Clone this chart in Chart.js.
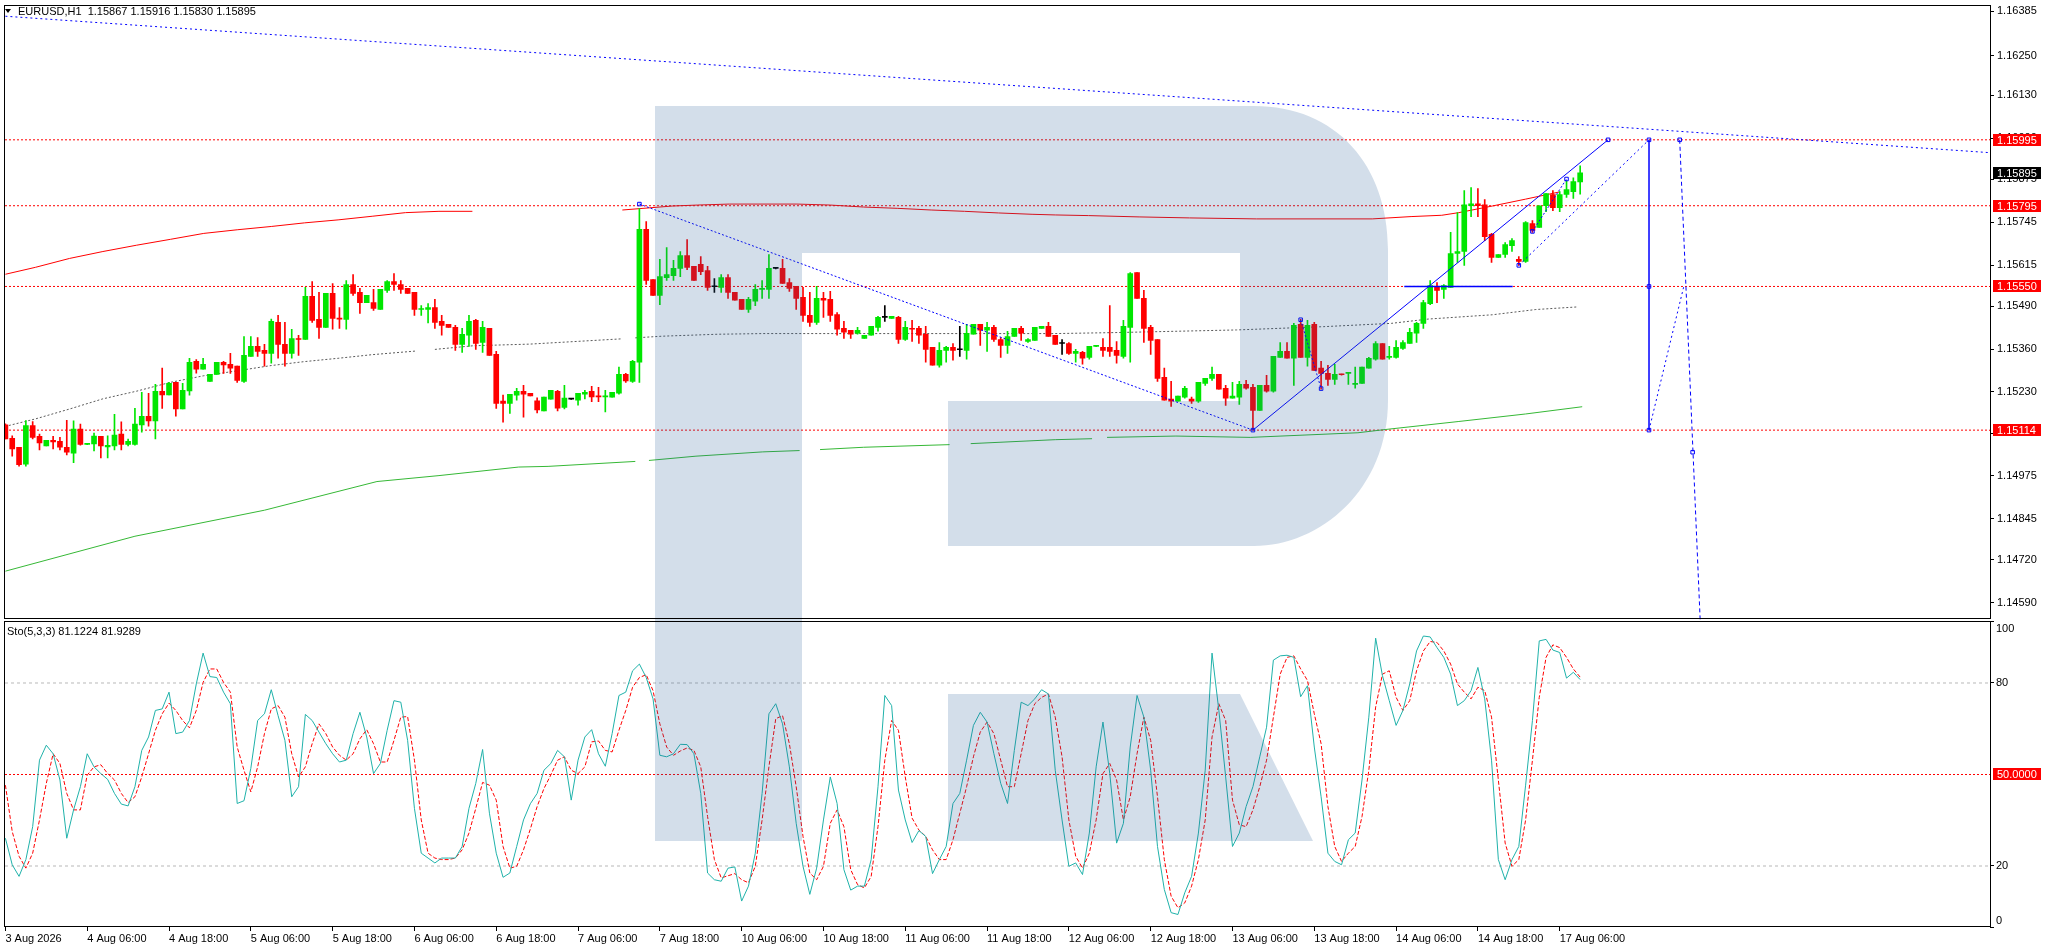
<!DOCTYPE html>
<html>
<head>
<meta charset="utf-8">
<script src="https://cdn.jsdelivr.net/npm/chart.js@4.4.1/dist/chart.umd.min.js"></script>
<style>
html,body{margin:0;padding:0;background:#fff;overflow:hidden}
canvas{display:block}
</style>
</head>
<body>
<canvas id="c" width="2046" height="948" style="width:2046px;height:948px"></canvas>
<script>
// ---------------- DATA ----------------
const symbolTitle = 'EURUSD,H1';
const stochTitle = 'Sto(5,3,3)';

// hourly candles, 3 Aug 2026 18:00 .. 17 Aug 2026 09:00
const opens = [
1.15130,1.15089,1.15062,1.15011,1.15128,1.15095,1.15066,1.15083,1.15080,1.15062,
1.15044,1.15117,1.15071,1.15072,1.15095,1.15063,1.15066,1.15102,1.15071,1.15071,
1.15130,1.15156,1.15142,1.15232,1.15221,1.15259,1.15178,1.15233,1.15323,1.15299,
1.15262,1.15283,1.15320,1.15314,1.15308,1.15262,1.15338,1.15368,1.15356,1.15347,
1.15441,1.15374,1.15347,1.15392,1.15389,1.15520,1.15450,1.15426,1.15529,1.15453,
1.15450,1.15556,1.15532,1.15501,1.15501,1.15480,1.15538,1.15565,1.15556,1.15544,
1.15532,1.15480,1.15480,1.15486,1.15444,1.15435,1.15426,1.15374,1.15402,1.15447,
1.15380,1.15423,1.15344,1.15202,1.15195,1.15220,1.15232,1.15226,1.15203,1.15172,
1.15208,1.15232,1.15183,1.15208,1.15205,1.15223,1.15232,1.15217,1.15215,1.15214,
1.15226,1.15283,1.15262,1.15320,1.15723,1.15571,1.15523,1.15577,1.15583,1.15605,
1.15644,1.15611,1.15617,1.15598,1.15549,1.15547,1.15577,1.15532,1.15511,1.15480,
1.15505,1.15541,1.15541,1.15605,1.15605,1.15562,1.15550,1.15517,1.15462,1.15441,
1.15514,1.15511,1.15465,1.15423,1.15417,1.15408,1.15392,1.15402,1.15426,1.15456,
1.15453,1.15456,1.15389,1.15423,1.15423,1.15405,1.15365,1.15311,1.15356,1.15365,
1.15358,1.15356,1.15405,1.15435,1.15417,1.15426,1.15389,1.15371,1.15398,1.15423,
1.15383,1.15386,1.15423,1.15429,1.15402,1.15377,1.15377,1.15347,1.15350,1.15335,
1.15368,1.15365,1.15365,1.15356,1.15338,1.15426,1.15592,1.15514,1.15426,1.15389,
1.15274,1.15208,1.15202,1.15214,1.15208,1.15202,1.15256,1.15271,1.15283,1.15241,
1.15211,1.15214,1.15253,1.15244,1.15174,1.15250,1.15232,1.15335,1.15353,1.15332,
1.15435,1.15335,1.15435,1.15302,1.15286,1.15268,1.15283,1.15286,1.15253,1.15256,
1.15302,1.15329,1.15377,1.15335,1.15335,1.15362,1.15377,1.15408,1.15438,1.15498,
1.15550,1.15541,1.15547,1.15650,1.15656,1.15795,1.15801,1.15798,1.15708,1.15638,
1.15647,1.15674,1.15632,1.15626,1.15741,1.15729,1.15795,1.15829,1.15789,1.15829,
1.15838,1.15867];
const highs = [
1.15133,1.15097,1.15062,1.15143,1.15140,1.15102,1.15083,1.15095,1.15092,1.15144,
1.15142,1.15132,1.15073,1.15105,1.15095,1.15097,1.15162,1.15139,1.15087,1.15180,
1.15229,1.15226,1.15253,1.15302,1.15259,1.15259,1.15256,1.15332,1.15328,1.15332,
1.15283,1.15320,1.15323,1.15347,1.15308,1.15398,1.15398,1.15395,1.15374,1.15451,
1.15462,1.15441,1.15420,1.15402,1.15547,1.15565,1.15532,1.15529,1.15559,1.15486,
1.15568,1.15586,1.15544,1.15523,1.15541,1.15541,1.15568,1.15589,1.15568,1.15544,
1.15532,1.15492,1.15498,1.15511,1.15462,1.15435,1.15432,1.15423,1.15462,1.15450,
1.15444,1.15423,1.15353,1.15220,1.15223,1.15241,1.15250,1.15226,1.15212,1.15214,
1.15235,1.15235,1.15250,1.15209,1.15226,1.15235,1.15247,1.15244,1.15235,1.15229,
1.15305,1.15286,1.15326,1.15786,1.15747,1.15571,1.15632,1.15668,1.15629,1.15656,
1.15692,1.15611,1.15641,1.15611,1.15574,1.15586,1.15586,1.15532,1.15511,1.15517,
1.15556,1.15568,1.15647,1.15607,1.15632,1.15574,1.15550,1.15547,1.15532,1.15550,
1.15532,1.15535,1.15471,1.15444,1.15417,1.15426,1.15402,1.15429,1.15459,1.15492,
1.15459,1.15459,1.15444,1.15447,1.15429,1.15429,1.15365,1.15380,1.15368,1.15377,
1.15429,1.15435,1.15435,1.15435,1.15441,1.15432,1.15395,1.15414,1.15423,1.15429,
1.15392,1.15426,1.15429,1.15441,1.15402,1.15389,1.15380,1.15359,1.15353,1.15368,
1.15370,1.15392,1.15492,1.15383,1.15447,1.15592,1.15592,1.15538,1.15432,1.15389,
1.15302,1.15262,1.15217,1.15247,1.15214,1.15259,1.15271,1.15305,1.15283,1.15250,
1.15259,1.15262,1.15265,1.15253,1.15250,1.15280,1.15338,1.15380,1.15380,1.15438,
1.15450,1.15447,1.15441,1.15323,1.15311,1.15314,1.15284,1.15289,1.15305,1.15305,
1.15335,1.15383,1.15377,1.15368,1.15386,1.15386,1.15423,1.15441,1.15508,1.15568,
1.15562,1.15556,1.15714,1.15774,1.15841,1.15850,1.15847,1.15814,1.15711,1.15647,
1.15683,1.15695,1.15641,1.15747,1.15750,1.15795,1.15832,1.15841,1.15838,1.15871,
1.15880,1.15916];
const lows = [
1.15087,1.15035,1.15005,1.15005,1.15087,1.15054,1.15066,1.15057,1.15054,1.15039,
1.15015,1.15068,1.15070,1.15051,1.15030,1.15030,1.15054,1.15054,1.15066,1.15068,
1.15108,1.15126,1.15087,1.15180,1.15221,1.15156,1.15178,1.15220,1.15287,1.15299,
1.15262,1.15283,1.15286,1.15286,1.15259,1.15259,1.15338,1.15338,1.15308,1.15317,
1.15332,1.15308,1.15332,1.15341,1.15389,1.15441,1.15392,1.15426,1.15420,1.15423,
1.15420,1.15523,1.15468,1.15501,1.15477,1.15480,1.15532,1.15538,1.15529,1.15529,
1.15462,1.15462,1.15439,1.15423,1.15402,1.15426,1.15356,1.15350,1.15368,1.15359,
1.15350,1.15341,1.15180,1.15138,1.15165,1.15205,1.15153,1.15218,1.15166,1.15172,
1.15208,1.15172,1.15178,1.15207,1.15190,1.15209,1.15200,1.15200,1.15169,1.15214,
1.15223,1.15259,1.15259,1.15259,1.15556,1.15523,1.15495,1.15568,1.15568,1.15580,
1.15601,1.15568,1.15586,1.15538,1.15532,1.15532,1.15514,1.15508,1.15480,1.15471,
1.15492,1.15514,1.15514,1.15603,1.15559,1.15535,1.15480,1.15444,1.15429,1.15435,
1.15456,1.15444,1.15402,1.15392,1.15392,1.15405,1.15392,1.15402,1.15414,1.15444,
1.15453,1.15377,1.15386,1.15383,1.15377,1.15320,1.15311,1.15305,1.15320,1.15326,
1.15338,1.15329,1.15405,1.15371,1.15353,1.15383,1.15335,1.15347,1.15398,1.15386,
1.15380,1.15386,1.15423,1.15398,1.15374,1.15344,1.15344,1.15320,1.15314,1.15329,
1.15367,1.15338,1.15338,1.15317,1.15332,1.15320,1.15514,1.15380,1.15344,1.15262,
1.15205,1.15186,1.15202,1.15211,1.15195,1.15198,1.15250,1.15265,1.15238,1.15189,
1.15211,1.15192,1.15238,1.15114,1.15174,1.15229,1.15229,1.15335,1.15332,1.15250,
1.15335,1.15308,1.15295,1.15238,1.15250,1.15253,1.15281,1.15253,1.15241,1.15256,
1.15302,1.15326,1.15329,1.15329,1.15332,1.15359,1.15377,1.15380,1.15423,1.15495,
1.15501,1.15514,1.15547,1.15623,1.15614,1.15762,1.15762,1.15689,1.15623,1.15638,
1.15638,1.15656,1.15614,1.15623,1.15714,1.15729,1.15777,1.15780,1.15777,1.15820,
1.15817,1.15830];
const closes = [
1.15087,1.15057,1.15009,1.15128,1.15092,1.15075,1.15083,1.15078,1.15062,1.15047,
1.15117,1.15071,1.15072,1.15096,1.15066,1.15068,1.15099,1.15071,1.15080,1.15132,
1.15156,1.15142,1.15232,1.15221,1.15256,1.15178,1.15235,1.15320,1.15299,1.15314,
1.15283,1.15320,1.15312,1.15302,1.15265,1.15341,1.15368,1.15353,1.15347,1.15444,
1.15374,1.15347,1.15392,1.15389,1.15520,1.15447,1.15426,1.15529,1.15453,1.15451,
1.15556,1.15529,1.15501,1.15523,1.15483,1.15541,1.15565,1.15556,1.15541,1.15529,
1.15480,1.15483,1.15486,1.15441,1.15432,1.15426,1.15374,1.15405,1.15444,1.15377,
1.15426,1.15341,1.15195,1.15195,1.15223,1.15232,1.15223,1.15218,1.15175,1.15214,
1.15235,1.15181,1.15211,1.15208,1.15226,1.15229,1.15215,1.15215,1.15217,1.15229,
1.15283,1.15263,1.15323,1.15723,1.15568,1.15523,1.15580,1.15586,1.15605,1.15644,
1.15608,1.15568,1.15595,1.15547,1.15549,1.15577,1.15532,1.15508,1.15480,1.15511,
1.15541,1.15544,1.15605,1.15605,1.15559,1.15544,1.15514,1.15462,1.15441,1.15514,
1.15508,1.15462,1.15420,1.15411,1.15405,1.15417,1.15402,1.15429,1.15456,1.15456,
1.15459,1.15389,1.15426,1.15420,1.15402,1.15359,1.15311,1.15356,1.15365,1.15356,
1.15358,1.15408,1.15435,1.15417,1.15426,1.15389,1.15371,1.15398,1.15423,1.15408,
1.15389,1.15426,1.15429,1.15398,1.15374,1.15377,1.15347,1.15353,1.15332,1.15368,
1.15369,1.15356,1.15353,1.15341,1.15429,1.15589,1.15514,1.15423,1.15386,1.15271,
1.15205,1.15202,1.15217,1.15241,1.15202,1.15259,1.15271,1.15283,1.15238,1.15211,
1.15217,1.15253,1.15241,1.15174,1.15250,1.15232,1.15338,1.15353,1.15332,1.15432,
1.15335,1.15432,1.15295,1.15286,1.15268,1.15283,1.15282,1.15287,1.15256,1.15305,
1.15332,1.15377,1.15329,1.15338,1.15365,1.15380,1.15411,1.15438,1.15501,1.15553,
1.15538,1.15553,1.15650,1.15656,1.15798,1.15801,1.15795,1.15701,1.15638,1.15647,
1.15677,1.15689,1.15626,1.15744,1.15720,1.15795,1.15832,1.15789,1.15829,1.15844,
1.15868,1.15895];

// Stochastic (5,3,3): main %K and signal %D
const stochMain = [
29.1,20.4,16.6,22.1,32.9,54.7,59.6,56.8,48.2,29.1,
38.4,46.0,56.8,52.5,50.3,48.4,43.8,40.3,39.7,46.0,
57.9,62.3,71.0,71.5,77.0,63.4,63.9,67.7,79.7,89.8,
82.1,81.8,77.0,73.2,40.5,41.4,52.0,67.7,69.9,77.8,
69.3,61.2,42.7,46.0,69.7,67.7,63.9,60.1,56.8,54.1,
54.7,63.4,70.4,62.3,50.3,53.6,64.5,74.2,73.7,61.2,
38.9,24.2,22.6,21.0,22.6,22.6,22.6,26.4,38.9,47.1,
58.2,37.3,24.2,16.3,17.7,26.4,35.1,40.4,43.8,51.4,
53.6,57.9,55.8,41.6,54.7,62.3,64.7,56.8,52.7,63.4,
75.9,77.0,84.0,86.2,81.8,74.8,56.3,55.8,56.8,59.9,
59.8,56.8,43.8,17.7,15.5,15.0,19.3,19.7,8.5,13.4,
24.2,43.8,69.9,73.2,66.6,52.5,34.0,19.9,10.7,19.3,
35.1,49.2,40.5,18.8,12.1,13.4,13.4,22.1,46.0,75.9,
72.6,44.9,35.1,27.7,31.6,29.7,17.5,22.1,26.4,40.5,
43.8,54.7,66.1,70.4,67.2,56.8,47.1,40.5,57.9,73.7,
72.6,74.8,77.8,76.4,51.4,35.1,19.9,21.0,17.2,30.8,
52.5,67.2,50.3,27.5,34.0,59.0,75.9,68.8,51.4,26.4,
12.3,4.7,4.1,11.2,16.6,30.8,51.4,89.8,71.0,49.2,
26.4,30.8,39.5,46.0,55.8,65.5,87.5,88.9,89.1,88.4,
75.5,79.1,59.0,42.7,24.2,21.5,20.4,28.6,30.8,48.2,
68.8,94.7,82.4,74.2,66.1,71.0,79.7,90.5,95.4,95.1,
91.6,88.4,82.9,72.6,74.2,77.5,85.1,74.8,54.7,22.1,
15.5,22.1,26.4,46.5,67.7,93.8,94.3,90.8,90.0,81.6,
83.5,81.1224];
const stochSignal = [
46.5,31.3,23.2,19.3,24.2,35.1,47.1,56.8,53.6,43.8,
38.4,38.4,49.8,52.5,53.2,50.3,48.2,43.8,40.8,42.7,
49.2,56.8,64.5,69.9,73.4,71.0,67.7,65.3,71.0,80.2,
84.6,84.6,80.2,77.0,59.0,51.4,44.3,52.5,63.4,71.5,
72.6,68.8,56.8,49.2,52.5,60.1,66.6,63.4,59.0,56.3,
54.7,56.8,61.7,64.7,60.1,54.1,54.1,61.2,68.8,69.0,
54.7,35.1,24.2,22.6,22.1,22.1,22.6,25.3,30.8,38.9,
47.4,46.5,41.6,26.4,19.3,19.9,25.3,32.1,39.5,45.4,
49.8,54.7,55.8,51.4,50.3,52.5,60.7,61.0,57.9,57.4,
64.5,71.0,78.6,81.8,82.7,77.5,66.6,59.0,56.3,57.7,
58.7,57.9,52.5,36.2,22.1,16.1,16.8,17.5,15.5,14.5,
19.9,35.1,52.5,68.3,69.3,60.1,46.0,29.7,17.7,15.5,
19.9,34.0,38.4,32.9,18.8,13.9,12.8,16.6,32.9,54.7,
67.7,64.5,49.2,35.7,31.8,29.7,25.3,22.1,22.1,28.6,
37.3,46.0,55.8,63.9,67.2,63.4,54.7,46.0,46.0,56.8,
67.7,73.2,75.3,76.4,68.8,55.8,35.1,23.2,19.3,24.2,
35.1,50.3,53.6,48.2,35.1,42.7,56.8,68.8,61.2,42.7,
22.1,10.1,6.3,7.9,13.4,22.1,35.1,62.3,73.2,67.7,
41.6,33.5,32.9,38.4,46.0,54.7,68.8,82.9,88.4,88.9,
84.6,80.8,69.9,60.1,39.5,26.4,21.5,24.2,26.4,36.2,
51.4,72.1,82.9,84.0,75.3,71.0,74.2,84.0,90.5,93.6,
93.3,90.5,86.2,79.7,77.0,74.8,78.6,77.5,68.8,48.2,
27.5,19.9,22.1,35.1,54.7,75.3,88.4,92.5,91.6,88.4,
84.6,81.9289];

// indicator curves on the price panel (bar position, price); null = gap
const redCurveX = [1,5.4,10.4,15.3,20.2,25.2,30.1,35,40,44.9,49.8,54.8,59.7,64.6,69.5,80,91.5,98.8,102.5,107.2,117.1,122,126.9,131.9,136.8,141.7,146.7,151.6,155,159.9,167.3,174.7,184.5,201.5,207.2,211.7,214.2,219.1,224,229];
const redCurveY = [1.15587,1.15608,1.15635,1.15656,1.15675,1.15693,1.15711,1.15722,1.15732,1.15743,1.15752,1.15763,1.15774,1.15778,1.15778,null,1.15782,1.15794,1.15797,1.15800,1.15800,1.15797,1.15791,1.15787,1.15782,1.15778,1.15773,1.15769,1.15767,1.15765,1.15761,1.15758,1.15755,1.15755,1.15762,1.15766,1.15774,1.15794,1.15815,1.15837];
const greyCurveX = [1.5,5.4,10.4,15.3,20.2,25.2,30.1,35,40,44.9,49.8,54.8,61.2,62.6,64,69.6,77.9,91.4,92.4,93.4,97.3,105.5,112.1,155,163.8,181.6,194.4,204.3,209.7,219.1,225.5,231.7];
const greyCurveY = [1.15128,1.15148,1.15178,1.15209,1.15232,1.15259,1.15279,1.15294,1.15310,1.15322,1.15332,1.15343,1.15354,null,1.15359,1.15370,1.15375,1.15391,null,1.15394,1.15399,1.15405,1.15407,1.15407,1.15410,1.15418,1.15428,1.15438,1.15451,1.15464,1.15480,1.15488];
const greenCurveX = [1,20,39,55.5,64.6,76.3,80.6,93.4,94.4,95.4,102.3,112.1,117.5,119,120.5,126.9,139.5,141,142.6,155,160.4,161.5,162.6,172.7,183.6,199.4,203.5,214.1,224,232.3];
const greenCurveY = [1.14686,1.14792,1.14871,1.14958,1.14976,1.15002,1.15004,1.15019,null,1.15022,1.15035,1.15048,1.15052,null,1.15055,1.15062,1.15070,null,1.15073,1.15085,1.15088,null,1.15092,1.15096,1.15092,1.15106,1.15116,1.15140,1.15163,1.15185];

// horizontal levels
const priceLevels = [1.15995, 1.15795, 1.15550, 1.15114];
const stochGreyLevels = [80, 20];
const stochMidLevel = 50;

// drawn analysis objects (bar position, price)
const longTrendX = [1, 292.1], longTrendY = [1.16370, 1.15956];
const downLineX = [94, 184], downLineY = [1.15800, 1.15114];
const upLineX = [184, 236.1], upLineY = [1.15114, 1.15995];
const lowerChanX = [223, 242.1], lowerChanY = [1.15614, 1.15995];
const smallWaveX = [191, 194], smallWaveY = [1.15449, 1.15240];
const smallWave2X = [225, 230], smallWave2Y = [1.15717, 1.15876];
const hLineX = [206.2, 222.1], hLineY = [1.15550, 1.15550];
const projVertX = [242.1, 242.1], projVertY = [1.15995, 1.15114];
const projUpX = [242.1, 247.2], projUpY = [1.15114, 1.15550];
const projDownX = [246.6, 249.6], projDownY = [1.15995, 1.14540];
const markX = [94, 184, 191, 194, 223, 225, 230, 236.1, 242.1, 242.1, 242.1, 246.6, 248.5];
const markY = [1.15800, 1.15114, 1.15449, 1.15240, 1.15614, 1.15717, 1.15876, 1.15995, 1.15995, 1.15550, 1.15114, 1.15995, 1.15047];

// axes
const xTickBars = [1,13,25,37,49,61,73,85,97,109,121,133,145,157,169,181,193,205,217,229];
const xTickLabels = ['3 Aug 2026','4 Aug 06:00','4 Aug 18:00','5 Aug 06:00','5 Aug 18:00','6 Aug 06:00','6 Aug 18:00','7 Aug 06:00','7 Aug 18:00','10 Aug 06:00','10 Aug 18:00','11 Aug 06:00','11 Aug 18:00','12 Aug 06:00','12 Aug 18:00','13 Aug 06:00','13 Aug 18:00','14 Aug 06:00','14 Aug 18:00','17 Aug 06:00'];
const priceTicks = [1.16385,1.16250,1.16130,1.16000,1.15875,1.15745,1.15615,1.15490,1.15360,1.15230,1.15105,1.14975,1.14845,1.14720,1.14590];
const stochTicks = [0, 20, 80, 100];
const stochLabelTicks = [100, 80, 20, 0];

// ---------------- CHART ----------------
const X_MIN = 0.94, X_MAX = 292.12;
const PRICE_MIN = 1.145363, PRICE_MAX = 1.164041;
const STO_MIN = 0, STO_MAX = 100.49;
const FONT = "'Liberation Sans', Arial, sans-serif";
const UP = '#00e600', DN = '#ff0000', DOJI = '#000000', BLUE = '#0000ff';

const nBars = opens.length;
const barPos = opens.map((_, i) => i + 1);
function candleColor(i) {
  return closes[i] > opens[i] ? UP : (closes[i] < opens[i] ? DN : DOJI);
}
const pts = (xs, ys) => xs.map((x, i) => ({x: x, y: ys[i]}));

function lineDS(xs, ys, color, opts) {
  return Object.assign({
    type: 'line', data: pts(xs, ys), borderColor: color, borderWidth: 1,
    pointRadius: 0, tension: 0, spanGaps: false, fill: false, yAxisID: 'y', order: 5
  }, opts || {});
}

const datasets = [];
priceLevels.forEach(l => datasets.push(lineDS([X_MIN, X_MAX], [l, l], '#ff0000', {borderDash: [2, 2], order: 30})));
stochGreyLevels.forEach(l => datasets.push(lineDS([X_MIN, X_MAX], [l, l], '#b8b8b8', {borderDash: [3, 3], order: 30, yAxisID: 'y2'})));
datasets.push(lineDS([X_MIN, X_MAX], [stochMidLevel, stochMidLevel], '#ff0000', {borderDash: [2, 2], order: 30, yAxisID: 'y2'}));

datasets.push(lineDS(redCurveX, redCurveY, '#ff0000', {order: 25}));
datasets.push(lineDS(greyCurveX, greyCurveY, '#5a5a5a', {order: 25, borderDash: [2, 2]}));
datasets.push(lineDS(greenCurveX, greenCurveY, '#36b836', {order: 25}));

datasets.push({
  type: 'bar', data: barPos.map((b, i) => ({x: b, y: [lows[i], highs[i]]})),
  backgroundColor: ctx => candleColor(ctx.dataIndex), borderWidth: 0,
  barThickness: 1, grouped: false, minBarLength: 1, yAxisID: 'y', order: 21
});
datasets.push({
  type: 'bar', data: barPos.map((b, i) => ({x: b, y: [opens[i], closes[i]]})),
  backgroundColor: ctx => candleColor(ctx.dataIndex), borderWidth: 0,
  barThickness: 5, grouped: false, minBarLength: 1, yAxisID: 'y', order: 20
});

datasets.push(lineDS(longTrendX, longTrendY, BLUE, {borderDash: [2, 3]}));
datasets.push(lineDS(downLineX, downLineY, BLUE, {borderDash: [2, 2]}));
datasets.push(lineDS(upLineX, upLineY, BLUE, {}));
datasets.push(lineDS(lowerChanX, lowerChanY, BLUE, {borderDash: [2, 3]}));
datasets.push(lineDS(smallWaveX, smallWaveY, BLUE, {borderDash: [2, 2]}));
datasets.push(lineDS(smallWave2X, smallWave2Y, BLUE, {borderDash: [2, 2]}));
datasets.push(lineDS(hLineX, hLineY, BLUE, {borderWidth: 1.5}));
datasets.push(lineDS(projVertX, projVertY, BLUE, {borderWidth: 1.5}));
datasets.push(lineDS(projUpX, projUpY, BLUE, {borderDash: [2, 3]}));
datasets.push(lineDS(projDownX, projDownY, BLUE, {borderDash: [4, 3]}));
datasets.push({
  type: 'line', data: pts(markX, markY), showLine: false, pointStyle: 'rect',
  pointRadius: 2.5, pointBorderColor: BLUE, pointBackgroundColor: 'rgba(255,255,255,0)',
  pointBorderWidth: 1, yAxisID: 'y', order: 4
});

datasets.push(lineDS(barPos, stochSignal, '#ff0000', {yAxisID: 'y2', borderDash: [4, 2], order: 3}));
datasets.push(lineDS(barPos, stochMain, '#20b2aa', {yAxisID: 'y2', order: 2}));

function drawLogo(ctx) {
  ctx.save();
  ctx.fillStyle = 'rgba(35,90,150,0.2)';
  ctx.beginPath();
  ctx.moveTo(655, 106);
  ctx.lineTo(1254, 106);
  ctx.bezierCurveTo(1336, 106, 1388, 165, 1388, 250);
  ctx.lineTo(1388, 400);
  ctx.bezierCurveTo(1388, 490, 1320, 546, 1254, 546);
  ctx.lineTo(948, 546);
  ctx.lineTo(948, 401);
  ctx.lineTo(1240, 401);
  ctx.lineTo(1240, 253);
  ctx.lineTo(802, 253);
  ctx.lineTo(802, 841);
  ctx.lineTo(655, 841);
  ctx.closePath();
  ctx.moveTo(948, 694);
  ctx.lineTo(1240, 694);
  ctx.lineTo(1313, 841);
  ctx.lineTo(948, 841);
  ctx.closePath();
  ctx.fill();
  ctx.restore();
}

const mt4Plugin = {
  id: 'mt4',
  afterDatasetsDraw(chart) { drawLogo(chart.ctx); },
  afterDraw(chart) {
    const ctx = chart.ctx, ca = chart.chartArea;
    const ys = chart.scales.y, ss = chart.scales.y2;
    ctx.save();
    // panel frames
    ctx.strokeStyle = '#000'; ctx.lineWidth = 1;
    const L = ca.left - 0.5, R = ca.right + 0.5;
    ctx.strokeRect(L, ca.top + 0.5, R - L, (ys.bottom - 2) - (ca.top + 0.5));
    ctx.strokeRect(L, ys.bottom + 1, R - L, (ca.bottom - 0.5) - (ys.bottom + 1));

    ctx.font = '11px ' + FONT;
    ctx.textBaseline = 'middle';
    ctx.textAlign = 'left';
    const bx = ca.right + 3;
    // price level labels
    priceLevels.forEach(l => {
      const y = Math.round(ys.getPixelForValue(l));
      ctx.fillStyle = '#ff0000';
      ctx.fillRect(bx, y - 6, 48, 12);
      ctx.fillStyle = '#ffffff';
      ctx.fillText(l.toFixed(5), bx + 4, y + 0.5);
    });
    // current price
    const last = closes[nBars - 1];
    const yc = Math.round(ys.getPixelForValue(last));
    ctx.fillStyle = '#000000';
    ctx.fillRect(bx, yc - 6, 48, 12);
    ctx.fillStyle = '#ffffff';
    ctx.fillText(last.toFixed(5), bx + 4, yc + 0.5);

    // stochastic scale labels
    ctx.fillStyle = '#000';
    stochLabelTicks.forEach(v => {
      let y = ss.getPixelForValue(v);
      y = Math.min(Math.max(y, ss.top + 8.5), ss.bottom - 6);
      ctx.fillText(String(v), bx + 3, y);
    });
    const ym = Math.round(ss.getPixelForValue(stochMidLevel));
    ctx.fillStyle = '#ff0000';
    ctx.fillRect(bx, ym - 6, 48, 12);
    ctx.fillStyle = '#ffffff';
    ctx.fillText(stochMidLevel.toFixed(4), bx + 4, ym + 0.5);

    // header texts
    ctx.fillStyle = '#000';
    ctx.beginPath();
    ctx.moveTo(5, 9); ctx.lineTo(11, 9); ctx.lineTo(8, 13); ctx.closePath(); ctx.fill();
    const lastO = opens[nBars - 1], lastH = highs[nBars - 1], lastL = lows[nBars - 1];
    ctx.fillText(symbolTitle + '  ' + lastO.toFixed(5) + ' ' + lastH.toFixed(5) + ' ' + lastL.toFixed(5) + ' ' + last.toFixed(5), 18, 11.5);
    ctx.fillText(stochTitle + ' ' + stochMain[nBars - 1].toFixed(4) + ' ' + stochSignal[nBars - 1].toFixed(4), 7, ys.bottom + 11);
    ctx.restore();
  }
};

new Chart(document.getElementById('c'), {
  type: 'bar',
  data: {datasets: datasets},
  plugins: [mt4Plugin],
  options: {
    responsive: false, animation: false, devicePixelRatio: 1, events: [],
    layout: {padding: {left: 3, top: 2, right: 0, bottom: 0}},
    plugins: {legend: {display: false}, tooltip: {enabled: false}, title: {display: false}},
    scales: {
      x: {
        type: 'linear', position: 'bottom', min: X_MIN, max: X_MAX, offset: false,
        grid: {display: true, drawOnChartArea: false, drawTicks: true, tickLength: 4, color: '#000', offset: false},
        border: {display: false},
        ticks: {
          autoSkip: false, maxRotation: 0, minRotation: 0, align: 'start', padding: 1,
          color: '#000', font: {family: FONT, size: 11},
          callback: (v) => { const k = xTickBars.indexOf(v); return k >= 0 ? xTickLabels[k] : ''; }
        },
        afterBuildTicks: s => { s.ticks = xTickBars.map(v => ({value: v})); },
        afterFit: s => { s.height = 21; s.paddingLeft = 0; s.paddingRight = 0; }
      },
      y: {
        type: 'linear', position: 'right', stack: 'panes', stackWeight: 617.5, weight: 1,
        min: PRICE_MIN, max: PRICE_MAX, offset: false,
        grid: {display: true, drawOnChartArea: false, drawTicks: true, tickLength: 4, color: '#000'},
        border: {display: false},
        ticks: {
          autoSkip: false, padding: 3, color: '#000', font: {family: FONT, size: 11},
          callback: v => Number(v).toFixed(5)
        },
        afterBuildTicks: s => { s.ticks = priceTicks.map(v => ({value: v})); },
        afterFit: s => { s.width = 56; s.paddingTop = 0; s.paddingBottom = 0; }
      },
      y2: {
        type: 'linear', position: 'right', stack: 'panes', stackWeight: 307.5, weight: 2,
        min: STO_MIN, max: STO_MAX, offset: false,
        grid: {display: true, drawOnChartArea: false, drawTicks: true, tickLength: 4, color: '#000'},
        border: {display: false},
        ticks: {display: false},
        afterBuildTicks: s => { s.ticks = stochTicks.map(v => ({value: v})); },
        afterFit: s => { s.width = 56; s.paddingTop = 0; s.paddingBottom = 0; }
      }
    }
  }
});
</script>
</body>
</html>
